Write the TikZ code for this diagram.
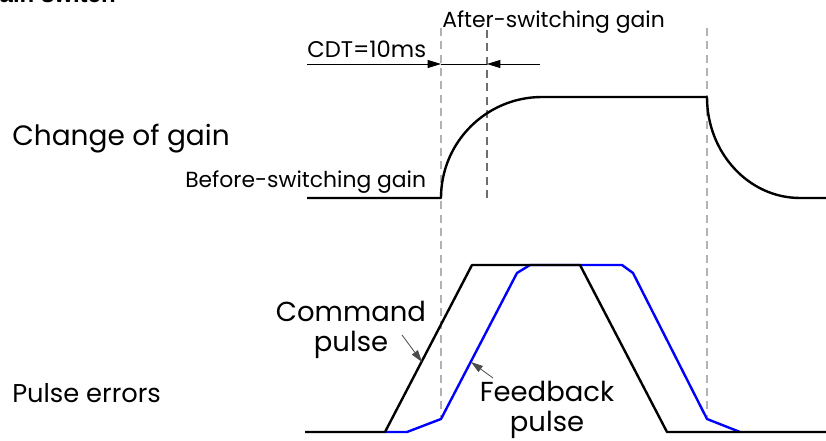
\documentclass[tikz,border=0pt]{standalone}
\usepackage{fontspec}
\setmainfont{Poppins}
\newfontfamily\headfont{Liberation Sans}
\usetikzlibrary{arrows.meta,positioning}
\definecolor{lightguide}{RGB}{178,178,178}
\definecolor{darkguide}{RGB}{110,110,110}
\newcommand{\guideline}[4]{%
  \draw[guide,#4] (#1,#2) -- (#1,#3);
}

\begin{document}
\begin{tikzpicture}[x=0.75pt,y=-0.75pt,
  guide/.style={dash pattern=on 6pt off 4pt,line width=0.9pt},
  wave/.style={line width=1.8pt,line join=round},
  dim/.style={line width=0.7pt},
  tip/.style={-{Triangle[length=10pt,width=6pt]}},
  note/.style={line width=0.6pt,draw=black!70,-{Triangle[length=9pt,width=5.5pt]}},
  small/.style={inner sep=0pt,anchor=base west,font=\fontsize{16.4}{16}\selectfont},
  large/.style={inner sep=0pt,font=\fontsize{20.6}{20}\selectfont}]
  \useasboundingbox (0,0) rectangle (826,441);
  \clip (0,0) rectangle (826,441);

  % heading, cut off by the page
  \node[inner sep=0pt,anchor=base east,font=\headfont\bfseries\fontsize{18}{18}\selectfont]
    (head) at (116,3) {Gain switch};

  % guides
  \guideline{441}{28}{417}{lightguide}
  \guideline{487}{30}{198}{darkguide}
  \guideline{707}{28}{417}{lightguide}

  % change of gain
  \node[large,anchor=base west,font=\fontsize{21}{21}\selectfont] (gainlbl) at (12,146) {Change of gain};
  \draw[wave] (307,198) -- (441,198)
    arc[start angle=180,end angle=270,x radius=101,y radius=101] -- (707,97)
    arc[start angle=180,end angle=90,x radius=93,y radius=101] -- (826,198);
  \node[small] (before) at (185,188) {Before-switching gain};
  \node[small] (after) at (442,28) {After-switching gain};

  % CDT
  \node[small,font=\fontsize{17}{17}\selectfont] (cdt) at (307,58) {CDT=10ms};
  \coordinate (cdtL) at (307,64);
  \coordinate (cdtA) at (441,64);
  \coordinate (cdtB) at (487,64);
  \coordinate (cdtR) at (540,64);
  \draw[dim] (cdtA) -- (cdtB);
  \draw[dim,tip] (cdtL) -- (cdtA);
  \draw[dim,tip] (cdtR) -- (cdtB);

  % pulse errors
  \node[large,anchor=base west,font=\fontsize{19.3}{19}\selectfont] (pulselbl) at (12,403) {Pulse errors};
  \draw[wave,blue] (385,432) -- (407,432) -- (441,419) -- (517,273) -- (530,265)
    -- (622,265) -- (633,273) -- (707,419) -- (740,432);
  \draw[wave] (305,432) -- (385,432) -- (472,265) -- (580,265) -- (667,432) -- (826,432);

  % labels with pointers
  \node[large,anchor=base] (cmd) at (351,322) {Command};
  \node[large,below=6pt of cmd] (cmdb) {pulse};
  \coordinate (cmdtail) at (402,335);
  \coordinate (cmdtip) at (422,362);
  \draw[note] (cmdtail) -- (cmdtip);

  \node[large,anchor=base] (fb) at (547,402) {Feedback};
  \node[large,below=6pt of fb] (fbb) {pulse};
  \coordinate (fbtail) at (493,378);
  \coordinate (fbtip) at (471,362);
  \draw[note] (fbtail) -- (fbtip);
\end{tikzpicture}
\end{document}
